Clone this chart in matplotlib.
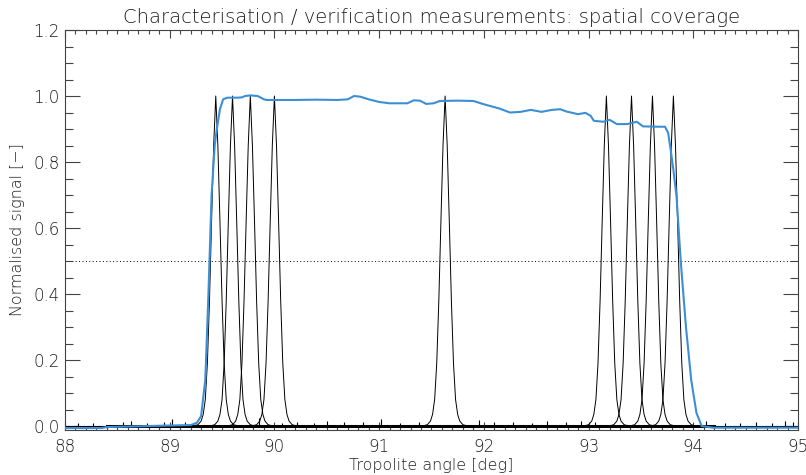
import numpy as np
import matplotlib.pyplot as plt
from matplotlib.ticker import MultipleLocator, FormatStrFormatter

# peak centres of the single-pixel scans [deg]
peak_centres = [89.44, 89.60, 89.77, 90.00, 91.63, 93.17, 93.41, 93.61, 93.81]

# shape of one scan around its centre
profile_dx = [-0.22, -0.17, -0.14, -0.12, -0.10, -0.08, -0.06, -0.04, -0.02, 0.0,
              0.02, 0.04, 0.06, 0.08, 0.10, 0.12, 0.14, 0.17, 0.22]
profile_y = [0.0, 0.004, 0.015, 0.035, 0.08, 0.19, 0.38, 0.62, 0.85, 1.0,
             0.85, 0.62, 0.38, 0.19, 0.08, 0.035, 0.015, 0.004, 0.0]

# combined coverage (blue)
cov_x = [88.0, 88.35, 88.4, 89.2, 89.26, 89.3, 89.34, 89.37, 89.4, 89.43, 89.45,
         89.48, 89.51, 89.55, 89.65, 89.69, 89.72, 89.77, 89.84, 89.9, 89.93,
         90.2, 90.4, 90.6, 90.7, 90.76, 90.82, 90.9, 91.0, 91.1, 91.27, 91.33,
         91.39, 91.45, 91.52, 91.58, 91.75, 91.9, 92.0, 92.15, 92.25, 92.35,
         92.45, 92.55, 92.65, 92.73, 92.79, 92.9, 92.97, 93.02, 93.05, 93.14,
         93.2, 93.27, 93.37, 93.46, 93.52, 93.68, 93.73, 93.76, 93.78, 93.81,
         93.84, 93.88, 93.93, 93.98, 94.03, 94.08, 94.19, 95.0]
cov_y = [-0.006, -0.006, -0.003, 0.003, 0.01, 0.03, 0.14, 0.4, 0.7, 0.85, 0.9,
         0.96, 0.99, 0.995, 0.995, 0.996, 1.0, 1.002, 1.0, 0.99, 0.988,
         0.988, 0.989, 0.988, 0.99, 1.0, 0.998, 0.99, 0.982, 0.978, 0.978, 0.987,
         0.986, 0.976, 0.978, 0.985, 0.986, 0.985, 0.975, 0.962, 0.95, 0.952,
         0.958, 0.952, 0.958, 0.96, 0.953, 0.945, 0.949, 0.94, 0.925, 0.922,
         0.928, 0.915, 0.915, 0.922, 0.908, 0.907, 0.907, 0.888, 0.846, 0.776,
         0.695, 0.5, 0.3, 0.14, 0.04, 0.0, -0.005, -0.005]

# noise spikes on the baseline
spike_x = [88.12, 88.27, 88.55, 88.63, 88.78, 88.95, 89.02, 89.15, 89.85, 90.07,
           90.22, 90.38, 90.5, 90.66, 90.85, 91.02, 91.2, 91.38, 91.95, 92.1,
           92.28, 92.46, 92.6, 92.78, 92.93, 93.06, 94.12, 94.3, 94.45, 94.6,
           94.75, 94.88, 94.95]
spike_y = [0.008, 0.01, 0.012, 0.015, 0.01, 0.013, 0.02, 0.012, 0.025, 0.01,
           0.013, 0.01, 0.015, 0.012, 0.011, 0.02, 0.01, 0.012, 0.018, 0.011,
           0.013, 0.01, 0.014, 0.012, 0.016, 0.012, 0.015, 0.01, 0.009, 0.012,
           0.01, 0.014, 0.013]

plt.rcParams['font.family'] = 'DejaVu Sans'
plt.rcParams['font.weight'] = 'light'
plt.rcParams['axes.titleweight'] = 'light'
plt.rcParams['axes.labelweight'] = 'light'
txt = '#1e1e1e'

fig = plt.figure(figsize=(8.06, 4.75), dpi=100)
ax = fig.add_axes([0.0806, 0.0947, 0.9095, 0.8421])

# baseline noise band
ax.plot([88.0, 95.0], [0.0, 0.0], color='black', lw=0.8, zorder=2)
ax.plot([88.4, 94.2], [0.0, 0.0], color='black', lw=2.2, zorder=2)
ax.vlines(spike_x, 0, spike_y, color='black', lw=0.8, zorder=2)

for c in peak_centres:
    px = [c + d for d in profile_dx]
    ax.plot(px, profile_y, color='black', lw=0.7, zorder=3)

ax.plot(cov_x, cov_y, color='#3b8fd4', lw=1.5, zorder=4)
ax.axhline(0.5, color='black', lw=0.7, ls=(0, (1, 2.5)), zorder=1)

ax.set_xlim(88, 95)
ax.set_ylim(-0.012, 1.2)
ax.xaxis.set_major_locator(MultipleLocator(1))
ax.xaxis.set_minor_locator(MultipleLocator(0.1))
ax.yaxis.set_major_locator(MultipleLocator(0.2))
ax.yaxis.set_minor_locator(MultipleLocator(0.05))
ax.yaxis.set_major_formatter(FormatStrFormatter('%.1f'))

ax.tick_params(which='both', direction='in', top=True, right=True,
               width=0.8, color='#444444', labelcolor=txt, labelsize=12)
ax.tick_params(axis='x', which='major', length=6, pad=6)
ax.tick_params(axis='x', which='minor', length=3)
ax.tick_params(axis='y', which='major', length=11, pad=4)
ax.tick_params(axis='y', which='minor', length=6)
for s in ax.spines.values():
    s.set_color('#444444')
    s.set_linewidth(0.8)

ax.set_title('Characterisation / verification measurements: spatial coverage',
             fontsize=14, color=txt, pad=5, fontweight='light')
ax.set_xlabel('Tropolite angle [deg]', fontsize=11.5, color=txt, labelpad=1,
              fontweight='light')
ax.set_ylabel('Normalised signal [\u2212]', fontsize=11.5, color=txt, labelpad=6,
              fontweight='light')

fig.savefig('out.png', dpi=100)
